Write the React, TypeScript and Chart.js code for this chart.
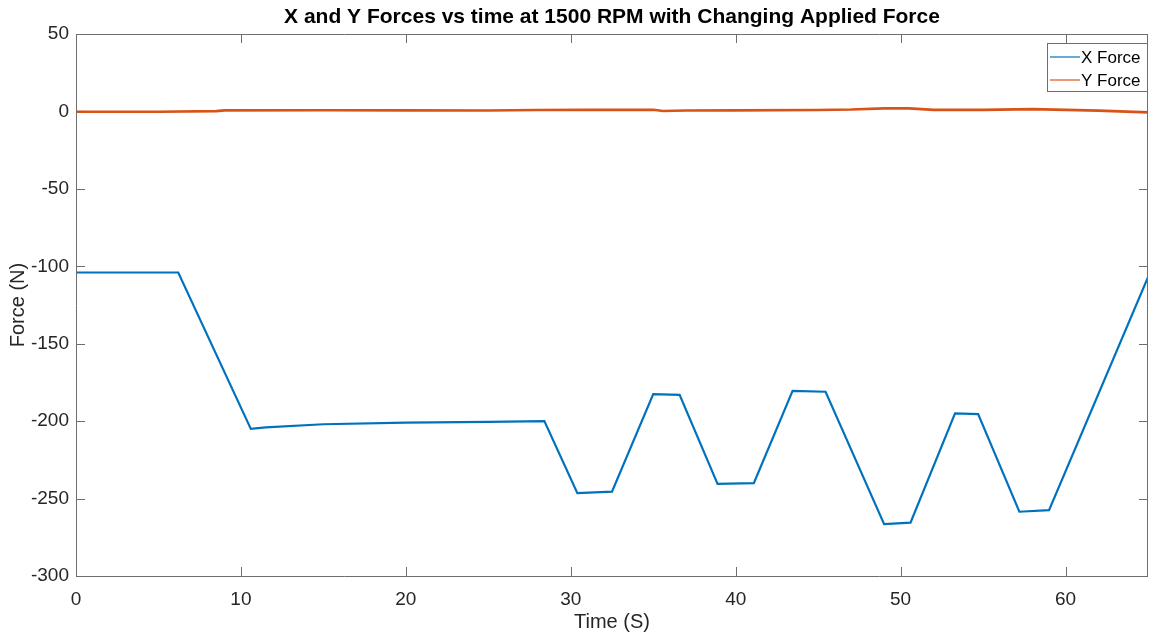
import React, { useEffect, useRef } from "react";
import { Chart, registerables } from "chart.js";

Chart.register(...registerables);

const TITLE = "X and Y Forces vs time at 1500 RPM with Changing Applied Force";
const X_LABEL = "Time (S)";
const Y_LABEL = "Force (N)";
const SERIES_NAMES = ["X Force", "Y Force"];

const xForceTime = [0, 6.2, 10.6, 11.5, 15, 20, 25, 28.4, 30.4, 32.5, 35.0, 36.6, 38.9, 41.1, 43.45, 45.45, 49.0, 50.6, 53.3, 54.7, 57.2, 59.0, 65];
const xForceValues = [-104, -104, -205, -204, -202, -201, -200.5, -200, -246.5, -245.5, -182.5, -183, -240.5, -240, -180.5, -181, -266.5, -265.5, -195, -195.5, -258.5, -257.5, -107];

const yForceTime = [0, 5, 8.5, 9, 15, 20, 25, 28, 31, 35, 35.6, 37, 40, 45, 47, 49, 50.5, 52, 55, 58, 60, 62, 65];
const yForceValues = [-0.2, -0.2, 0.2, 0.7, 0.8, 0.7, 0.6, 0.9, 1.0, 1.1, 0.3, 0.6, 0.7, 0.9, 1.2, 2.0, 2.0, 1.0, 1.0, 1.5, 1.0, 0.5, -0.6];

const X_TICKS = [0, 10, 20, 30, 40, 50, 60];
const Y_TICKS = [-300, -250, -200, -150, -100, -50, 0, 50];
const X_MIN = 0, X_MAX = 65;
const Y_MIN = -300, Y_MAX = 50;

const COLORS = ["#0072BD", "#D95319"];
const AXIS_COLOR = "#262626";
const FONT = "'Liberation Sans', Arial, Helvetica, sans-serif";

const framePlugin = {
  id: "matlabFrame",
  afterDraw(chart: any) {
    const { ctx, chartArea } = chart;
    const { left, right, top, bottom } = chartArea;
    const xs = chart.scales.x;
    const ys = chart.scales.y;
    ctx.save();
    ctx.strokeStyle = "#6e6e6e";
    ctx.lineWidth = 1;
    ctx.beginPath();
    ctx.rect(Math.round(left) + 0.5, Math.round(top) + 0.5, Math.round(right - left) - 1, Math.round(bottom - top));
    ctx.stroke();
    const tl = 9;
    ctx.beginPath();
    xs.ticks.forEach((t: any) => {
      const px = Math.round(xs.getPixelForValue(t.value)) + 0.5;
      ctx.moveTo(px, bottom);
      ctx.lineTo(px, bottom - tl);
      ctx.moveTo(px, top);
      ctx.lineTo(px, top + tl);
    });
    ys.ticks.forEach((t: any) => {
      const py = Math.round(ys.getPixelForValue(t.value)) + 0.5;
      ctx.moveTo(left, py);
      ctx.lineTo(left + tl, py);
      ctx.moveTo(right, py);
      ctx.lineTo(right - tl, py);
    });
    ctx.stroke();

    // title
    ctx.fillStyle = "#000";
    ctx.font = `bold 21px ${FONT}`;
    ctx.textAlign = "center";
    ctx.textBaseline = "middle";
    ctx.fillText(TITLE, (left + right) / 2, 17);

    // legend
    const bx = 1047, by = 43, bw = 100, bh = 48;
    ctx.fillStyle = "#fff";
    ctx.fillRect(bx, by, bw, bh);
    ctx.strokeStyle = "#6e6e6e";
    ctx.strokeRect(bx + 0.5, by + 0.5, bw, bh);
    ctx.font = `17px ${FONT}`;
    ctx.textAlign = "left";
    ctx.textBaseline = "middle";
    chart.data.datasets.forEach((ds: any, i: number) => {
      const ry = 57 + i * 23;
      ctx.strokeStyle = ds.borderColor;
      ctx.lineWidth = 1.2;
      ctx.beginPath();
      ctx.moveTo(1050, ry);
      ctx.lineTo(1080, ry);
      ctx.stroke();
      ctx.fillStyle = "#000";
      ctx.fillText(ds.label, 1081, ry + 1);
    });
    ctx.restore();
  },
};

export default function App() {
  const canvasRef = useRef<HTMLCanvasElement | null>(null);

  useEffect(() => {
    document.body.style.margin = "0";
    const canvas = canvasRef.current;
    if (!canvas) return;
    const xData = xForceTime.map((t, i) => ({ x: t, y: xForceValues[i] }));
    const yData = yForceTime.map((t, i) => ({ x: t, y: yForceValues[i] }));
    const chart = new Chart(canvas, {
      type: "line",
      data: {
        datasets: [
          { label: SERIES_NAMES[0], data: xData, borderColor: COLORS[0], backgroundColor: COLORS[0], borderWidth: 2.2, pointRadius: 0, tension: 0 },
          { label: SERIES_NAMES[1], data: yData, borderColor: COLORS[1], backgroundColor: COLORS[1], borderWidth: 2.6, pointRadius: 0, tension: 0 },
        ],
      },
      options: {
        animation: false,
        responsive: false,
        maintainAspectRatio: false,
        layout: { padding: { top: 34, right: 2, left: 0, bottom: 0 } },
        plugins: { legend: { display: false }, title: { display: false }, tooltip: { enabled: false } },
        scales: {
          x: {
            type: "linear",
            min: X_MIN,
            max: X_MAX,
            grid: { display: false, drawTicks: false, tickLength: 0 },
            border: { display: false },
            afterBuildTicks: (s: any) => { s.ticks = X_TICKS.map((v) => ({ value: v })); },
            ticks: {
              color: AXIS_COLOR,
              font: { family: FONT, size: 19 },
              padding: 12,
              maxRotation: 0,
              autoSkip: false,
            },
            title: { display: true, text: X_LABEL, color: AXIS_COLOR, font: { family: FONT, size: 20 }, padding: { top: 1, bottom: 0 } },
            afterFit: (s: any) => { s.height = 58; },
          },
          y: {
            type: "linear",
            min: Y_MIN,
            max: Y_MAX,
            grid: { display: false, drawTicks: false, tickLength: 0 },
            border: { display: false },
            afterBuildTicks: (s: any) => { s.ticks = Y_TICKS.map((v) => ({ value: v })); },
            ticks: {
              color: AXIS_COLOR,
              font: { family: FONT, size: 19 },
              padding: 7,
              autoSkip: false,
            },
            title: { display: true, text: Y_LABEL, color: AXIS_COLOR, font: { family: FONT, size: 20 }, padding: { top: 6, bottom: 6 } },
            afterFit: (s: any) => { s.width = 76; },
          },
        },
      },
      plugins: [framePlugin],
    });
    return () => chart.destroy();
  }, []);

  return (
    <div style={{ width: 1150, height: 634, background: "#fff" }}>
      <canvas ref={canvasRef} width={1150} height={634} style={{ display: "block" }} />
    </div>
  );
}
